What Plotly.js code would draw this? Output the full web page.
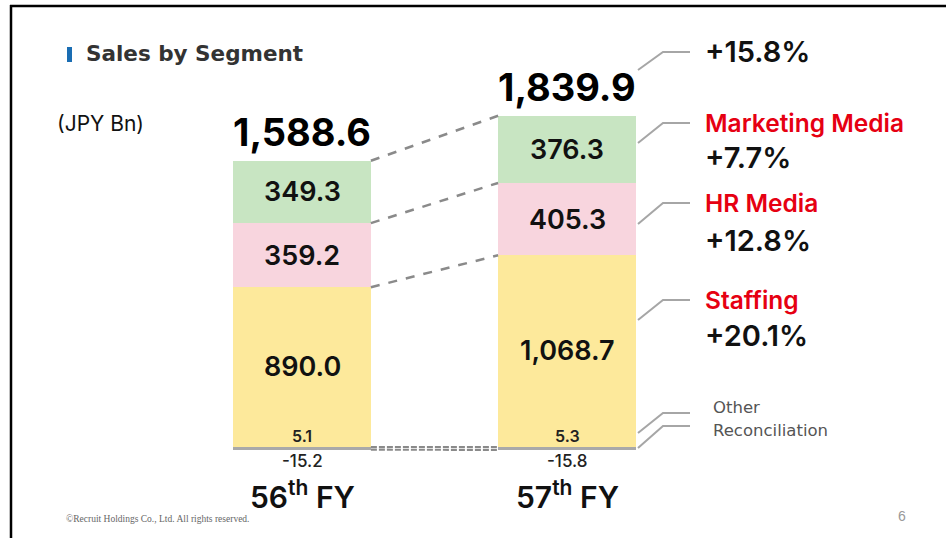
<!DOCTYPE html>
<html><head><meta charset="utf-8">
<script src="https://cdn.plot.ly/plotly-3.0.1.min.js"></script>
<style>html,body{margin:0;padding:0;background:#fff;overflow:hidden}#chart{width:946px;height:538px}</style>
</head><body><div id="chart"></div>
<script>
// ---- data ----
const fiscalYears = ['56<sup>th</sup> FY', '57<sup>th</sup> FY'];
const reconciliation = [-15.2, -15.8];
const other = [5.1, 5.3];
const staffing = [890.0, 1068.7];
const hrMedia = [359.2, 405.3];
const marketingMedia = [349.3, 376.3];
const totals = [1588.6, 1839.9];
const totalGrowth = '+15.8%';
const segmentNames = ['Marketing Media', 'HR Media', 'Staffing'];
const segmentGrowth = ['+7.7%', '+12.8%', '+20.1%'];
const minorNames = ['Other', 'Reconciliation'];

// ---- layout helpers ----
const W = 946, H = 538;
const xPos = [0, 1];
const barW = 0.52;
const X = x => x / W;            // pixel -> paper
const Y = y => 1 - y / H;
const fmt = v => v.toLocaleString('en-US', {minimumFractionDigits: 1, maximumFractionDigits: 1});

const colors = {rec: '#a9a9a9', other: '#fde99b', staff: '#fde99b', hr: '#f8d5de', mm: '#c8e5c2'};
const numFont = 'Inter, "Liberation Sans", sans-serif';

const bar = (name, y, color) => ({
  type: 'bar', name, x: xPos, y, width: barW,
  marker: {color, line: {width: 0}}, hoverinfo: 'skip'
});

const traces = [
  bar('Reconciliation', reconciliation, colors.rec),
  bar('Other', other, colors.other),
  bar('Staffing', staffing, colors.staff),
  bar('HR Media', hrMedia, colors.hr),
  bar('Marketing Media', marketingMedia, colors.mm)
];

// cumulative levels
const staffTop = xPos.map((_, i) => other[i] + staffing[i]);
const hrTop = xPos.map((_, i) => staffTop[i] + hrMedia[i]);
const mmTop = xPos.map((_, i) => hrTop[i] + marketingMedia[i]);

// dashed connectors between bars
const connX = [xPos[0] + barW / 2, xPos[1] - barW / 2];
const conn = (y, width, dash) => ({
  type: 'scatter', mode: 'lines', x: connX, y, hoverinfo: 'skip',
  line: {color: '#8a8a8a', width: width, dash: dash}
});
traces.push(conn(mmTop, 2.5, 'dash'));
traces.push(conn(hrTop, 2.5, 'dash'));
traces.push(conn(staffTop, 2.5, 'dash'));
traces.push(conn([0, 0], 2.2, '6px,2px'));
traces.push(conn(reconciliation, 2.2, '6px,2px'));

const annotations = [];
// segment values inside bars
xPos.forEach((x, i) => {
  const segs = [
    [other[i] + staffing[i] / 2, staffing[i]],
    [staffTop[i] + hrMedia[i] / 2, hrMedia[i]],
    [hrTop[i] + marketingMedia[i] / 2, marketingMedia[i]]
  ];
  segs.forEach(([y, v]) => annotations.push({
    x, y, xref: 'x', yref: 'y', text: fmt(v), showarrow: false,
    font: {family: numFont, size: 27, color: '#111', weight: 600}
  }));
  // totals above bar
  annotations.push({
    x, y: mmTop[i], xref: 'x', yref: 'y', yanchor: 'bottom', yshift: 4,
    text: fmt(totals[i]), showarrow: false,
    font: {family: numFont, size: 38, color: '#000', weight: 650}
  });
  // other (small, just above baseline)
  annotations.push({
    x, y: 0, xref: 'x', yref: 'y', yanchor: 'bottom', yshift: -1,
    text: fmt(other[i]), showarrow: false,
    font: {family: numFont, size: 16, color: '#222', weight: 600}
  });
  // reconciliation below baseline
  annotations.push({
    x, y: reconciliation[i], xref: 'x', yref: 'y', yanchor: 'top', yshift: 1,
    text: fmt(reconciliation[i]), showarrow: false,
    font: {family: numFont, size: 17, color: '#222', weight: 500}
  });
  // category label
  annotations.push({
    x, y: Y(495), xref: 'x', yref: 'paper', yanchor: 'middle',
    text: fiscalYears[i], showarrow: false,
    font: {family: numFont, size: 30, color: '#111', weight: 600}
  });
});

// static texts
const txt = (x, y, text, font, anchor) => annotations.push({
  x: X(x), y: Y(y), xref: 'paper', yref: 'paper', xanchor: anchor || 'left', yanchor: 'middle',
  text, showarrow: false, font
});
txt(84, 53, 'Sales by Segment', {family: '"DejaVu Sans", sans-serif', size: 21.5, color: '#333', weight: 700});
txt(55, 123, '(JPY Bn)', {family: numFont, size: 21, color: '#111'});
txt(64, 519, '©Recruit Holdings Co., Ltd. All rights reserved.', {family: '"Liberation Serif", serif', size: 9.5, color: '#666'});
txt(896, 516, '6', {family: '"Liberation Sans", sans-serif', size: 14, color: '#999'});

const blackFont = s => ({family: numFont, size: s, color: '#111', weight: 600});
const redFont = {family: numFont, size: 24.5, color: '#e60012', weight: 600};
txt(703, 52, totalGrowth, blackFont(29));
const segY = [[123, 158], [203, 240], [300, 335]];
segmentNames.forEach((n, k) => {
  txt(703, segY[k][0], n, redFont);
  txt(703, segY[k][1], segmentGrowth[k], blackFont(29));
});
txt(711, 407, minorNames[0], {family: '"DejaVu Sans", sans-serif', size: 16.5, color: '#555', weight: 500});
txt(711, 430, minorNames[1], {family: '"DejaVu Sans", sans-serif', size: 16.5, color: '#555', weight: 500});

// decorative shapes
const shapes = [];
const line = (pts, color, width) => shapes.push({
  type: 'path', xref: 'paper', yref: 'paper',
  path: 'M' + pts.map(p => X(p[0]) + ',' + Y(p[1])).join(' L'),
  line: {color, width}
});
// leader lines
[[70, 52], [143, 123], [224, 203], [320, 300], [433, 413], [448, 426]].forEach(([y0, y1]) => {
  line([[638, y0], [663, y1], [690, y1]], '#a6a6a6', 2);
});
// frame
line([[10, 6], [946, 6]], '#000', 2.5);
line([[11, 5], [11, 538]], '#000', 2.5);
// title marker
shapes.push({type: 'rect', xref: 'paper', yref: 'paper', x0: X(67), x1: X(72), y0: Y(62), y1: Y(47),
  fillcolor: '#1a6db3', line: {width: 0}});

const layout = {
  width: W, height: H,
  margin: {l: 0, r: 0, t: 0, b: 0},
  paper_bgcolor: '#fff', plot_bgcolor: '#fff',
  barmode: 'relative', bargap: 0,
  showlegend: false, hovermode: false,
  xaxis: {range: [-302 / 265, (946 - 302) / 265], visible: false, fixedrange: true},
  yaxis: {range: [-91 / 0.1785, 447 / 0.1785], visible: false, fixedrange: true},
  annotations, shapes
};
Plotly.newPlot('chart', traces, layout, {staticPlot: true, displayModeBar: false});
</script>
</body></html>
